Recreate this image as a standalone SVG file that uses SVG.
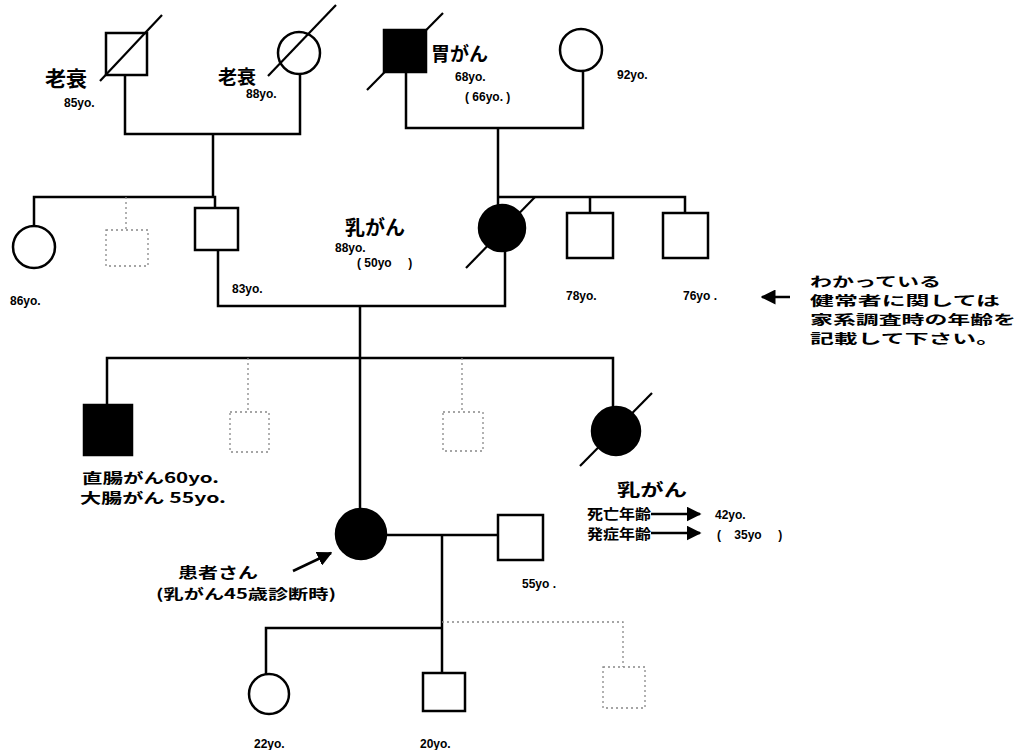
<svg xmlns="http://www.w3.org/2000/svg" width="1017" height="750" viewBox="0 0 1017 750">
<style>
.ln{stroke:#000;stroke-width:2.5;fill:none}
.sh{stroke:#000;stroke-width:2.5;fill:#fff}
.fl{stroke:#000;stroke-width:2.5;fill:#000}
.dt{stroke:#888;stroke-width:1.3;fill:none;stroke-dasharray:2 3}
.sl{stroke:#000;stroke-width:2.2}
.jp{font-family:"Noto Sans CJK JP","Noto Sans",sans-serif;font-weight:bold;fill:#000}
.yo{font-family:"Liberation Sans",Arial,sans-serif;font-weight:bold;fill:#000;font-size:12px}
</style>
<defs>
<marker id="ah" viewBox="0 0 10 10" refX="9" refY="5" markerWidth="6" markerHeight="6" orient="auto"><path d="M0,0 L10,5 L0,10 z" fill="#000"/></marker>
</defs>
<g id="connectors">
<path class="ln" d="M125,75 V134 H300 V74"/>
<path class="ln" d="M213,134 V197"/>
<path class="ln" d="M34,226 V197 H215 V208"/>
<path class="dt" d="M126,197 V230"/>
<path class="ln" d="M406,72 V128 H583 V71"/>
<path class="ln" d="M498,128 V205"/>
<path class="ln" d="M498,197 H685 V213"/>
<path class="ln" d="M590,197 V213"/>
<path class="ln" d="M218,250 V306 H505 V252"/>
<path class="ln" d="M360,306 V508"/>
<path class="ln" d="M107,405 V358 H613 V408"/>
<path class="dt" d="M248,358 V412"/>
<path class="dt" d="M462,358 V412"/>
<path class="ln" d="M387,535 H498"/>
<path class="ln" d="M442,535 V673"/>
<path class="ln" d="M266,675 V628 H442"/>
<path class="dt" d="M442,622 H623 V667"/>
<line class="ln" x1="790" y1="297" x2="762" y2="297" marker-end="url(#ah)"/>
<line class="ln" x1="293" y1="571" x2="331" y2="553" marker-end="url(#ah)"/>
<line class="ln" x1="651" y1="514" x2="700" y2="514" stroke-width="2" marker-end="url(#ah)"/>
<line class="ln" x1="651" y1="533" x2="700" y2="533" stroke-width="2" marker-end="url(#ah)"/>
</g>
<g id="n-gf-paternal">
<rect class="sh" x="106" y="33" width="41" height="42"/>
<line class="sl" x1="100" y1="81" x2="162" y2="15"/>
<text class="jp" x="45" y="86" font-size="21">老衰</text>
<text class="yo" x="64" y="107" font-size="11">85yo.</text>
</g>
<g id="n-gm-paternal">
<circle class="sh" cx="299" cy="53" r="21"/>
<line class="sl" x1="268" y1="76" x2="336" y2="5"/>
<text class="jp" x="218" y="84" font-size="19">老衰</text>
<text class="yo" x="246" y="98" font-size="11">88yo.</text>
</g>
<g id="n-gf-maternal">
<line class="sl" x1="367" y1="90" x2="443" y2="13"/>
<rect class="fl" x="384" y="30" width="42" height="42"/>
<text class="jp" x="431" y="61" font-size="19">胃がん</text>
<text class="yo" x="455" y="81" font-size="11">68yo.</text>
<text class="yo" x="465" y="101" font-size="12">( 66yo. )</text>
</g>
<g id="n-gm-maternal">
<circle class="sh" cx="581" cy="50" r="21"/>
<text class="yo" x="617" y="79" font-size="12">92yo.</text>
</g>
<g id="n-aunt-paternal">
<circle class="sh" cx="34" cy="247" r="21"/>
<text class="yo" x="10" y="305" font-size="13">86yo.</text>
</g>
<g id="n-unknown-paternal">
<rect class="dt" x="106" y="230" width="42" height="36"/>
</g>
<g id="n-father">
<rect class="sh" x="195" y="208" width="43" height="42"/>
<text class="yo" x="232" y="293" font-size="13">83yo.</text>
</g>
<g id="n-mother">
<line class="sl" x1="466" y1="268" x2="535" y2="197"/>
<circle class="fl" cx="502" cy="228" r="23"/>
<text class="jp" x="345" y="235" font-size="20">乳がん</text>
<text class="yo" x="335" y="252" font-size="11">88yo.</text>
<text class="yo" x="357" y="267" font-size="12" xml:space="preserve">( 50yo     )</text>
</g>
<g id="n-uncle1">
<rect class="sh" x="567" y="213" width="46" height="45"/>
<text class="yo" x="566" y="300" font-size="12">78yo.</text>
</g>
<g id="n-uncle2">
<rect class="sh" x="663" y="213" width="45" height="45"/>
<text class="yo" x="683" y="300" font-size="12">76yo .</text>
</g>
<g id="n-note">
<text class="jp" x="810" y="286" font-size="13" textLength="131" lengthAdjust="spacingAndGlyphs">わかっている</text>
<text class="jp" x="810" y="305" font-size="13" textLength="190" lengthAdjust="spacingAndGlyphs">健常者に関しては</text>
<text class="jp" x="810" y="324" font-size="13" textLength="206" lengthAdjust="spacingAndGlyphs">家系調査時の年齢を</text>
<text class="jp" x="810" y="343" font-size="13" textLength="190" lengthAdjust="spacingAndGlyphs">記載して下さい。</text>
</g>
<g id="n-brother">
<rect class="fl" x="84" y="405" width="48" height="50"/>
<text class="jp" x="82" y="483" font-size="14" textLength="137" lengthAdjust="spacingAndGlyphs">直腸がん60yo.</text>
<text class="jp" x="80" y="503" font-size="14" textLength="146" lengthAdjust="spacingAndGlyphs">大腸がん 55yo.</text>
</g>
<g id="n-sib2">
<rect class="dt" x="230" y="412" width="39" height="40"/>
</g>
<g id="n-sib3">
<rect class="dt" x="443" y="412" width="40" height="39"/>
</g>
<g id="n-sister">
<line class="sl" x1="580" y1="466" x2="652" y2="393"/>
<circle class="fl" cx="616" cy="431" r="24"/>
<text class="jp" x="617" y="496" font-size="17" textLength="70" lengthAdjust="spacingAndGlyphs">乳がん</text>
<text class="jp" x="587" y="519" font-size="14" textLength="64" lengthAdjust="spacingAndGlyphs">死亡年齢</text>
<text class="yo" x="715" y="519" font-size="13">42yo.</text>
<text class="jp" x="587" y="539" font-size="14" textLength="64" lengthAdjust="spacingAndGlyphs">発症年齢</text>
<text class="yo" x="717" y="539" font-size="13" xml:space="preserve">(    35yo     )</text>
</g>
<g id="n-patient">
<circle class="fl" cx="361" cy="534" r="25"/>
<text class="jp" x="178" y="578" font-size="15" textLength="80" lengthAdjust="spacingAndGlyphs">患者さん</text>
<text class="jp" x="156" y="599" font-size="14" textLength="180" lengthAdjust="spacingAndGlyphs">(乳がん45歳診断時)</text>
</g>
<g id="n-husband">
<rect class="sh" x="498" y="515" width="45" height="45"/>
<text class="yo" x="522" y="588" font-size="12">55yo .</text>
</g>
<g id="n-daughter">
<circle class="sh" cx="269" cy="694" r="20"/>
<text class="yo" x="254" y="748" font-size="12">22yo.</text>
</g>
<g id="n-son">
<rect class="sh" x="423" y="673" width="42" height="38"/>
<text class="yo" x="420" y="748" font-size="13">20yo.</text>
</g>
<g id="n-child3">
<rect class="dt" x="603" y="667" width="42" height="41"/>
</g>
</svg>
